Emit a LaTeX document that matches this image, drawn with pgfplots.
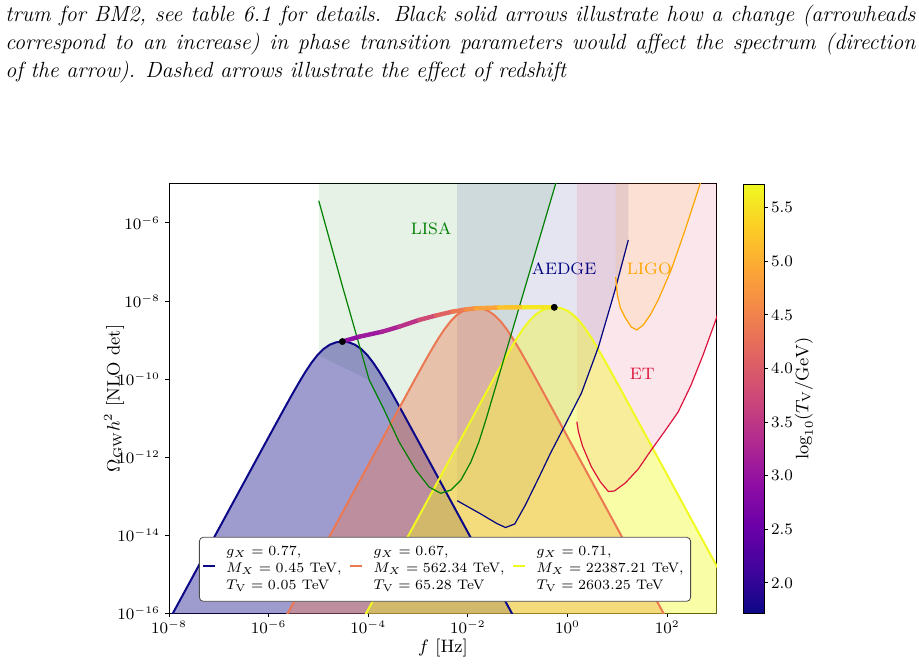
\documentclass[border=0pt]{standalone}
\usepackage{pgfplots}
\pgfplotsset{compat=1.18}
\usepackage{pgfplotstable}

\definecolor{bmA}{RGB}{13,8,135}
\definecolor{bmB}{RGB}{235,120,83}
\definecolor{bmC}{RGB}{240,249,33}
\definecolor{lisa}{RGB}{0,128,0}
\definecolor{aedge}{RGB}{0,0,128}
\definecolor{ligo}{RGB}{255,165,0}
\definecolor{et}{RGB}{220,20,60}

\pgfplotsset{colormap={plasma}{rgb255=(13,8,135) rgb255=(65,4,157) rgb255=(106,0,168)
  rgb255=(143,13,164) rgb255=(177,42,144) rgb255=(204,71,120) rgb255=(225,100,98)
  rgb255=(242,132,75) rgb255=(252,166,54) rgb255=(252,206,37) rgb255=(240,249,33)}}

% all values are log10(f/Hz) and log10(Omega_GW h^2)
\pgfplotstableread{
lgf lgO
-9.02 -18.586
-6.02 -11.537
-5.77 -10.953
-5.645 -10.663
-5.52 -10.377
-5.395 -10.099
-5.27 -9.834
-5.145 -9.592
-5.02 -9.386
-4.895 -9.227
-4.77 -9.119
-4.645 -9.059
-4.52 -9.040
-4.395 -9.059
-4.27 -9.119
-4.145 -9.227
-4.02 -9.386
-3.895 -9.592
-3.77 -9.834
-3.645 -10.099
-3.52 -10.377
-3.395 -10.663
-3.27 -10.953
-3.02 -11.537
-0.02 -18.586
}\specA

\pgfplotstableread{
lgf lgO
-6.346 -17.718
-3.346 -10.669
-3.096 -10.085
-2.971 -9.795
-2.846 -9.509
-2.721 -9.231
-2.596 -8.966
-2.471 -8.724
-2.346 -8.518
-2.221 -8.359
-2.096 -8.251
-1.971 -8.191
-1.846 -8.172
-1.721 -8.191
-1.596 -8.251
-1.471 -8.359
-1.346 -8.518
-1.221 -8.724
-1.096 -8.966
-0.971 -9.231
-0.846 -9.509
-0.721 -9.795
-0.596 -10.085
-0.346 -10.669
2.654 -17.718
}\specB

\pgfplotstableread{
lgf lgO
-4.766 -17.708
-1.766 -10.659
-1.516 -10.075
-1.391 -9.785
-1.266 -9.499
-1.141 -9.221
-1.016 -8.956
-0.891 -8.714
-0.766 -8.508
-0.641 -8.349
-0.516 -8.241
-0.391 -8.181
-0.266 -8.162
-0.141 -8.181
-0.016 -8.241
0.109 -8.349
0.234 -8.508
0.359 -8.714
0.484 -8.956
0.609 -9.221
0.734 -9.499
0.859 -9.785
0.984 -10.075
1.234 -10.659
4.234 -17.708
}\specC

% peak track, coloured by log10(T_V/GeV)
\pgfplotstableread{
lgf lgO c
-4.52 -9.040 2.90
-4.18 -8.915 3.00
-3.72 -8.787 3.15
-3.38 -8.659 3.30
-2.98 -8.487 3.60
-2.64 -8.372 3.95
-2.314 -8.274 4.25
-2.046 -8.218 4.50
-1.846 -8.187 4.70
-1.38 -8.167 5.05
-0.88 -8.160 5.40
-0.266 -8.162 5.72
}\track

\pgfplotstableread{
lgf lgO
-4.52 -9.040
-0.266 -8.162
}\peaks

% detector sensitivity curves
\pgfplotstableread{
lgf lgO
-4.994 -5.428
-4.52 -7.615
-3.98 -10.026
-3.68 -10.795
-3.38 -11.615
-3.046 -12.333
-2.78 -12.769
-2.546 -12.931
-2.34 -12.846
-2.14 -12.590
-1.94 -12.128
-1.78 -11.615
-1.64 -11.051
-1.046 -8.487
-0.246 -5.026
-0.125 -4.5
}\lisaC

\pgfplotstableread{
lgf lgO
-4.994 -4.5
-4.994 -9.40
-3.98 -10.026
-3.68 -10.795
-3.38 -11.615
-3.046 -12.333
-2.78 -12.769
-2.546 -12.931
-2.34 -12.846
-2.14 -12.590
-1.94 -12.128
-1.78 -11.615
-1.64 -11.051
-1.046 -8.487
-0.246 -5.026
-0.125 -4.5
}\lisaF

\pgfplotstableread{
lgf lgO
-2.214 -13.121
-1.74 -13.462
-1.42 -13.705
-1.246 -13.808
-1.06 -13.718
-0.846 -13.231
-0.58 -12.538
-0.34 -11.897
-0.08 -11.256
0.28 -10.359
0.62 -9.179
0.954 -7.718
1.22 -6.436
}\aedgeC

\pgfplotstableread{
lgf lgO
-2.214 -4.5
-2.214 -13.121
-1.74 -13.462
-1.42 -13.705
-1.246 -13.808
-1.06 -13.718
-0.846 -13.231
-0.58 -12.538
-0.34 -11.897
-0.08 -11.256
0.28 -10.359
0.62 -9.179
0.954 -7.718
1.22 -6.436
1.22 -4.5
}\aedgeF

\pgfplotstableread{
lgf lgO
0.186 -11.095
0.22 -11.359
0.30 -11.718
0.48 -12.256
0.66 -12.641
0.82 -12.885
0.94 -12.872
1.16 -12.667
1.42 -12.308
1.68 -11.821
1.94 -11.359
2.22 -10.846
2.48 -10.154
2.72 -9.385
2.954 -8.564
3.22 -7.590
}\etC

\pgfplotstableread{
lgf lgO
0.186 -4.5
0.186 -11.095
0.22 -11.359
0.30 -11.718
0.48 -12.256
0.66 -12.641
0.82 -12.885
0.94 -12.872
1.16 -12.667
1.42 -12.308
1.68 -11.821
1.94 -11.359
2.22 -10.846
2.48 -10.154
2.72 -9.385
2.954 -8.564
3.22 -7.590
3.22 -4.5
}\etF

\pgfplotstableread{
lgf lgO
0.966 -7.385
1.00 -7.846
1.06 -8.179
1.16 -8.436
1.28 -8.667
1.39 -8.744
1.52 -8.615
1.66 -8.359
1.82 -7.974
2.08 -7.205
2.36 -6.179
2.654 -5.026
2.79 -4.5
}\ligoC

\pgfplotstableread{
lgf lgO
0.966 -4.5
0.966 -7.385
1.00 -7.846
1.06 -8.179
1.16 -8.436
1.28 -8.667
1.39 -8.744
1.52 -8.615
1.66 -8.359
1.82 -7.974
2.08 -7.205
2.36 -6.179
2.654 -5.026
2.79 -4.5
}\ligoF

\begin{document}
\begin{tikzpicture}
\path[use as bounding box] (0,0) rectangle (459.5pt,332.5pt);

\node[anchor=north west, inner sep=0pt, text width=455pt, align=justify,
      font=\fontsize{11}{14}\selectfont\itshape] at (2.5pt,330pt)
  {trum for BM2, see table 6.1 for details. Black solid arrows illustrate how a change (arrowheads\linebreak
   correspond to an increase) in phase transition parameters would affect the spectrum (direction\linebreak
   of the arrow). Dashed arrows illustrate the effect of redshift};

\begin{axis}[
  at={(84.5pt,26pt)}, anchor=south west,
  scale only axis, width=274pt, height=214.5pt,
  xmin=-8, xmax=3, ymin=-16, ymax=-5,
  xtick={-8,-6,-4,-2,0,2},
  xticklabels={$10^{-8}$,$10^{-6}$,$10^{-4}$,$10^{-2}$,$10^{0}$,$10^{2}$},
  ytick={-16,-14,-12,-10,-8,-6},
  yticklabels={$10^{-16}$,$10^{-14}$,$10^{-12}$,$10^{-10}$,$10^{-8}$,$10^{-6}$},
  xtick pos=bottom, ytick pos=left,
  tick align=outside, major tick length=2pt,
  tick style={black, line width=0.5pt},
  axis line style={line width=0.5pt},
  tick label style={font=\fontsize{7.8}{9}\selectfont},
  xticklabel style={yshift=1.5pt},
  yticklabel style={xshift=1pt},
  label style={font=\fontsize{9}{11}\selectfont},
  xlabel={$f$ [Hz]},
  ylabel={$\Omega_{\mathrm{GW}}h^2$ [NLO det]},
  xlabel style={at={(axis description cs:0.5,-0.0816)}, anchor=center},
  ylabel style={at={(axis description cs:-0.1,0.5)}, anchor=center},
  colormap name=plasma,
  point meta min=1.72, point meta max=5.72,
  colorbar,
  colorbar style={
    at={(parent axis.north east)}, anchor=north west, xshift=4.5pt,
    width=10.5pt,
    ytick={2,2.5,3,3.5,4,4.5,5,5.5},
    ytick pos=right, yticklabel pos=right,
    tick align=outside, major tick length=2pt,
    tick style={black, line width=0.5pt},
    axis line style={line width=0.5pt},
    yticklabel style={font=\fontsize{8}{9}\selectfont, xshift=-2pt,
      /pgf/number format/.cd, fixed, fixed zerofill, precision=1},
    ylabel={$\log_{10}(T_{\mathrm{V}}/\mathrm{GeV})$},
    ylabel style={font=\fontsize{9}{11}\selectfont,
      at={(axis description cs:2.9,0.5)}, anchor=center},
  },
  legend columns=3,
  legend cell align=left,
  legend style={
    at={(0.0547,0.0263)}, anchor=south west,
    draw=black!70, rounded corners=2pt, fill=white,
    font=\fontsize{6.9}{8.35}\selectfont,
    inner xsep=1.5pt, inner ysep=1.5pt,
    nodes={text depth=},
    /tikz/every even column/.append style={column sep=2pt},
  },
  legend image code/.code={\draw[#1, line width=0.8pt] (0pt,1.75pt) -- (6pt,1.75pt);
    \path (9pt,1.75pt);},
]

% detector regions
\addplot[draw=none, fill=lisa, fill opacity=0.1, forget plot] table {\lisaF} -- cycle;
\addplot[draw=none, fill=aedge, fill opacity=0.1, forget plot] table {\aedgeF} -- cycle;
\addplot[draw=none, fill=et, fill opacity=0.1, forget plot] table {\etF} -- cycle;
\addplot[draw=none, fill=ligo, fill opacity=0.1, forget plot] table {\ligoF} -- cycle;

% benchmark spectra
\addplot[draw=none, fill=bmA, fill opacity=0.4, forget plot] table {\specA} -- cycle;
\addplot[draw=none, fill=bmB, fill opacity=0.4, forget plot] table {\specB} -- cycle;
\addplot[draw=none, fill=bmC, fill opacity=0.4, forget plot] table {\specC} -- cycle;

\addplot[bmA, line width=1pt] table {\specA};
\addlegendentry{\begin{tabular}{@{}l@{}}$g_X = 0.77$,\\ $M_X = 0.45$ TeV,\\ $T_{\mathrm{V}} = 0.05$ TeV\end{tabular}}
\addplot[bmB, line width=1pt] table {\specB};
\addlegendentry{\begin{tabular}{@{}l@{}}$g_X = 0.67$,\\ $M_X = 562.34$ TeV,\\ $T_{\mathrm{V}} = 65.28$ TeV\end{tabular}}
\addplot[bmC, line width=1pt] table {\specC};
\addlegendentry{\begin{tabular}{@{}l@{}}$g_X = 0.71$,\\ $M_X = 22387.21$ TeV,\\ $T_{\mathrm{V}} = 2603.25$ TeV\end{tabular}}

% detector sensitivity curves
\addplot[lisa, line width=0.6pt, forget plot] table {\lisaC};
\addplot[aedge, line width=0.6pt, forget plot] table {\aedgeC};
\addplot[et, line width=0.6pt, forget plot] table {\etC};
\addplot[ligo, line width=0.6pt, forget plot] table {\ligoC};

% peak track and peaks
\addplot[mesh, point meta=explicit, line width=2.2pt, line cap=round, forget plot]
  table[meta=c] {\track};
\addplot[only marks, mark=*, mark size=1.5pt, black, forget plot] table {\peaks};

\node[text=lisa, font=\fontsize{8.3}{10}\selectfont] at (axis cs:-2.74,-6.154) {LISA};
\node[text=aedge, font=\fontsize{8.3}{10}\selectfont] at (axis cs:-0.07,-7.179) {AEDGE};
\node[text=ligo, font=\fontsize{8.3}{10}\selectfont] at (axis cs:1.64,-7.179) {LIGO};
\node[text=et, font=\fontsize{8.3}{10}\selectfont] at (axis cs:1.5,-9.859) {ET};
\end{axis}
\end{tikzpicture}
\end{document}
